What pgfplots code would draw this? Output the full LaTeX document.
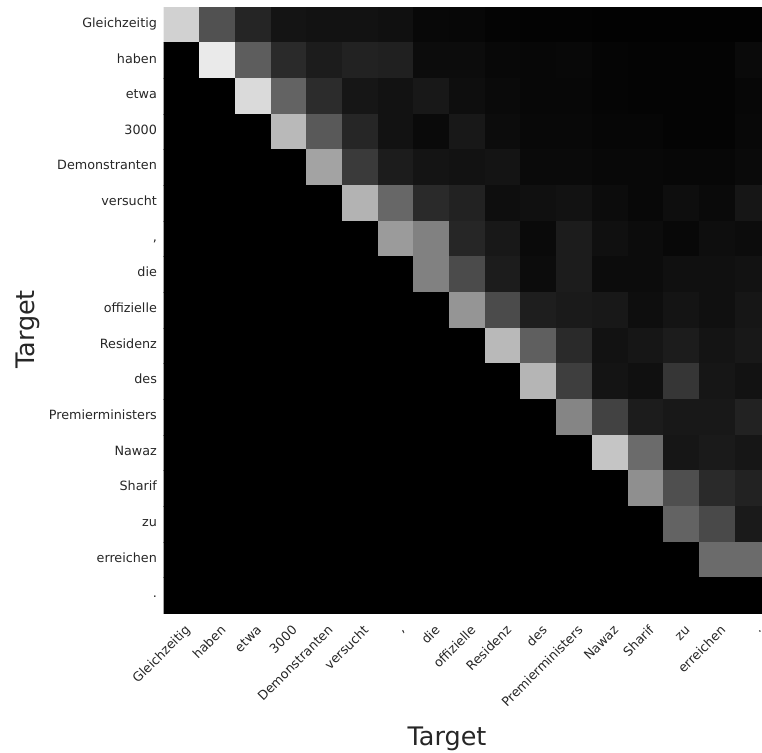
\documentclass[border=0pt]{standalone}
\usepackage{fontspec}
\setmainfont{DejaVu Sans}
\usepackage{pgfplots}
\pgfplotsset{compat=1.18}
\definecolor{txt}{HTML}{262626}
\begin{document}
\begin{tikzpicture}
\begin{axis}[
  at={(163.6bp,140bp)}, anchor=south west,
  scale only axis, width=606.9bp, height=606.05bp,
  xmin=-0.5, xmax=16.5, ymin=-0.5, ymax=16.5, y dir=reverse,
  axis line style={draw=none}, major tick length=0pt,
  xtick={0,...,16}, ytick={0,...,16},
  xticklabels={Gleichzeitig,haben,etwa,3000,Demonstranten,versucht,{,},die,offizielle,Residenz,des,Premierministers,Nawaz,Sharif,zu,erreichen,.},
  yticklabels={Gleichzeitig,haben,etwa,3000,Demonstranten,versucht,{,},die,offizielle,Residenz,des,Premierministers,Nawaz,Sharif,zu,erreichen,.},
  tick label style={font=\fontsize{12.8}{15}\selectfont, text=txt},
  yticklabel style={anchor=east, inner sep=0pt, xshift=-6.5bp, text height=0.72em, text depth=0.2em},
  xticklabel style={rotate=45, anchor=north east, inner sep=0pt, text height=0.72em, text depth=0.2em, yshift=-12bp, xshift=-6bp},
  label style={font=\fontsize{25.6}{30}\selectfont, text=txt},
  xlabel={Target}, ylabel={Target},
  xlabel style={at={(axis description cs:0.467,-0.2178)}, anchor=base, inner sep=0pt},
  ylabel style={at={(axis description cs:-0.2119,0.4678)}, anchor=base, inner sep=0pt},
  colormap={grays}{gray(0cm)=(0); gray(1cm)=(1)},
  point meta min=0, point meta max=255,
]
\addplot[matrix plot*, mesh/cols=17, point meta=explicit] coordinates {
(0,0)[208] (1,0)[80] (2,0)[37] (3,0)[20] (4,0)[18] (5,0)[18] (6,0)[16] (7,0)[8] (8,0)[7] (9,0)[4] (10,0)[3] (11,0)[3] (12,0)[2] (13,0)[2] (14,0)[2] (15,0)[2] (16,0)[2]
(0,1)[0] (1,1)[232] (2,1)[92] (3,1)[42] (4,1)[28] (5,1)[34] (6,1)[32] (7,1)[12] (8,1)[12] (9,1)[8] (10,1)[7] (11,1)[8] (12,1)[5] (13,1)[4] (14,1)[4] (15,1)[4] (16,1)[10]
(0,2)[0] (1,2)[0] (2,2)[216] (3,2)[98] (4,2)[44] (5,2)[22] (6,2)[18] (7,2)[24] (8,2)[14] (9,2)[10] (10,2)[7] (11,2)[7] (12,2)[5] (13,2)[4] (14,2)[4] (15,2)[4] (16,2)[7]
(0,3)[0] (1,3)[0] (2,3)[0] (3,3)[184] (4,3)[88] (5,3)[38] (6,3)[18] (7,3)[10] (8,3)[24] (9,3)[12] (10,3)[8] (11,3)[8] (12,3)[6] (13,3)[6] (14,3)[4] (15,3)[4] (16,3)[8]
(0,4)[0] (1,4)[0] (2,4)[0] (3,4)[0] (4,4)[162] (5,4)[58] (6,4)[28] (7,4)[20] (8,4)[18] (9,4)[20] (10,4)[10] (11,4)[10] (12,4)[8] (13,4)[8] (14,4)[7] (15,4)[7] (16,4)[10]
(0,5)[0] (1,5)[0] (2,5)[0] (3,5)[0] (4,5)[0] (5,5)[178] (6,5)[102] (7,5)[42] (8,5)[34] (9,5)[14] (10,5)[16] (11,5)[18] (12,5)[12] (13,5)[8] (14,5)[14] (15,5)[10] (16,5)[22]
(0,6)[0] (1,6)[0] (2,6)[0] (3,6)[0] (4,6)[0] (5,6)[0] (6,6)[154] (7,6)[128] (8,6)[38] (9,6)[24] (10,6)[10] (11,6)[28] (12,6)[16] (13,6)[12] (14,6)[8] (15,6)[14] (16,6)[12]
(0,7)[0] (1,7)[0] (2,7)[0] (3,7)[0] (4,7)[0] (5,7)[0] (6,7)[0] (7,7)[128] (8,7)[74] (9,7)[28] (10,7)[12] (11,7)[28] (12,7)[12] (13,7)[12] (14,7)[16] (15,7)[16] (16,7)[18]
(0,8)[0] (1,8)[0] (2,8)[0] (3,8)[0] (4,8)[0] (5,8)[0] (6,8)[0] (7,8)[0] (8,8)[148] (9,8)[74] (10,8)[30] (11,8)[26] (12,8)[24] (13,8)[14] (14,8)[20] (15,8)[16] (16,8)[22]
(0,9)[0] (1,9)[0] (2,9)[0] (3,9)[0] (4,9)[0] (5,9)[0] (6,9)[0] (7,9)[0] (8,9)[0] (9,9)[184] (10,9)[94] (11,9)[42] (12,9)[18] (13,9)[22] (14,9)[28] (15,9)[20] (16,9)[24]
(0,10)[0] (1,10)[0] (2,10)[0] (3,10)[0] (4,10)[0] (5,10)[0] (6,10)[0] (7,10)[0] (8,10)[0] (9,10)[0] (10,10)[180] (11,10)[62] (12,10)[20] (13,10)[16] (14,10)[54] (15,10)[22] (16,10)[18]
(0,11)[0] (1,11)[0] (2,11)[0] (3,11)[0] (4,11)[0] (5,11)[0] (6,11)[0] (7,11)[0] (8,11)[0] (9,11)[0] (10,11)[0] (11,11)[132] (12,11)[66] (13,11)[28] (14,11)[24] (15,11)[24] (16,11)[34]
(0,12)[0] (1,12)[0] (2,12)[0] (3,12)[0] (4,12)[0] (5,12)[0] (6,12)[0] (7,12)[0] (8,12)[0] (9,12)[0] (10,12)[0] (11,12)[0] (12,12)[196] (13,12)[106] (14,12)[22] (15,12)[26] (16,12)[22]
(0,13)[0] (1,13)[0] (2,13)[0] (3,13)[0] (4,13)[0] (5,13)[0] (6,13)[0] (7,13)[0] (8,13)[0] (9,13)[0] (10,13)[0] (11,13)[0] (12,13)[0] (13,13)[142] (14,13)[78] (15,13)[42] (16,13)[34]
(0,14)[0] (1,14)[0] (2,14)[0] (3,14)[0] (4,14)[0] (5,14)[0] (6,14)[0] (7,14)[0] (8,14)[0] (9,14)[0] (10,14)[0] (11,14)[0] (12,14)[0] (13,14)[0] (14,14)[98] (15,14)[72] (16,14)[26]
(0,15)[0] (1,15)[0] (2,15)[0] (3,15)[0] (4,15)[0] (5,15)[0] (6,15)[0] (7,15)[0] (8,15)[0] (9,15)[0] (10,15)[0] (11,15)[0] (12,15)[0] (13,15)[0] (14,15)[0] (15,15)[106] (16,15)[106]
(0,16)[0] (1,16)[0] (2,16)[0] (3,16)[0] (4,16)[0] (5,16)[0] (6,16)[0] (7,16)[0] (8,16)[0] (9,16)[0] (10,16)[0] (11,16)[0] (12,16)[0] (13,16)[0] (14,16)[0] (15,16)[0] (16,16)[0]
};
\end{axis}
\pgfresetboundingbox
\useasboundingbox (0,0) rectangle (762bp,753bp);
\end{tikzpicture}
\end{document}
